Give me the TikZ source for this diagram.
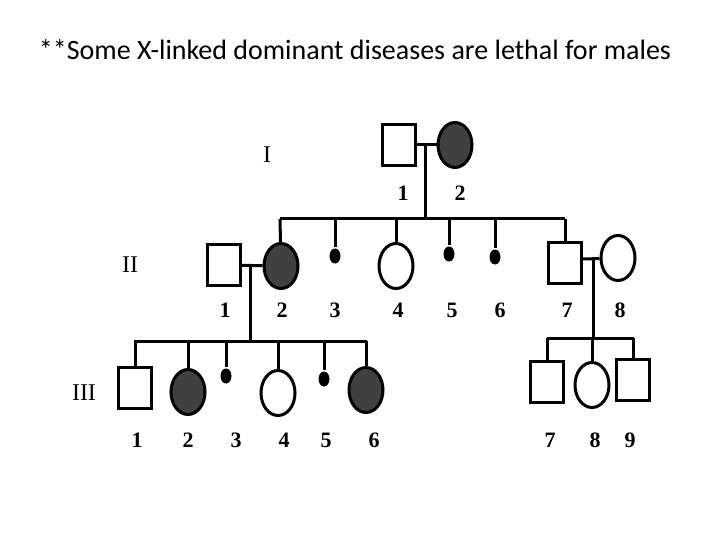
\documentclass[tikz,border=0pt]{standalone}
\usepackage{fontspec}
\usetikzlibrary{shapes.geometric}
\setmainfont{Liberation Serif}
\newfontfamily\titlefont{Carlito}
\begin{document}
\begin{tikzpicture}[x=1pt,y=-1pt,line width=3pt,
 male/.style={draw,fill=white,minimum width=33pt,minimum height=41pt,inner sep=0pt},
 fem/.style={draw,ellipse,fill=white,minimum width=34pt,minimum height=45pt,inner sep=0pt},
 aff/.style={fill=black!75},
 dot/.style={ellipse,fill=black,minimum width=11pt,minimum height=15pt,inner sep=0pt},
 lab/.style={font=\fontsize{22}{22}\selectfont\bfseries}]
\useasboundingbox (0,0) rectangle (720,540);
\node[font=\titlefont\fontsize{28}{30}\selectfont] (title) at (355,50) {**Some X-linked dominant diseases are lethal for males};
% generation I
\node[male] (i1) at (399,145) {};
\node[fem,aff] (i2) at (455,145) {};
\node[lab,font=\fontsize{24}{24}\selectfont] (gI) at (267,155) {I};
\node[lab] (li1) at (403,193) {1};
\node[lab] (li2) at (460,193) {2};
\coordinate (cI) at (425,145);
\coordinate (sI) at (425,219);
\coordinate (sIa) at (280,219);
\coordinate (sIb) at (565,219);
% generation II
\node[male] (ii1) at (224,265) {};
\node[fem,aff] (ii2) at (281,266) {};
\node[dot] (ii3) at (335,256) {};
\node[fem] (ii4) at (396,266) {};
\node[dot] (ii5) at (449,254) {};
\node[dot] (ii6) at (495,257) {};
\node[male] (ii7) at (565,263) {};
\node[fem] (ii8) at (618,258) {};
\node[lab,font=\fontsize{24}{24}\selectfont] (gII) at (130,265) {II};
\foreach \n/\x in {1/225,2/282,3/335,4/398,5/452,6/500,7/567,8/620}
 \node[lab] (lii\n) at (\x,310) {\n};
% generation III
\node[male] (iii1) at (135,388) {};
\node[fem,aff] (iii2) at (188,392) {};
\node[dot] (iii3) at (226,376) {};
\node[fem] (iii4) at (278,393) {};
\node[dot] (iii5) at (324,379) {};
\node[fem,aff] (iii6) at (366,390) {};
\node[male] (iii7) at (547,382) {};
\node[fem] (iii8) at (592,385) {};
\node[male] (iii9) at (633,380) {};
\node[lab,font=\fontsize{24}{24}\selectfont] (gIII) at (84,393) {III};
\foreach \n/\x in {1/137,2/188,3/236,4/284,5/326,6/374,7/550,8/595,9/630}
 \node[lab] (liii\n) at (\x,440) {\n};
% connectors generation I
\draw (i1) -- (i2);
\draw (cI) -- (sI);
\draw (sIa) -- (sIb);
\draw (sIa) -- (ii2);
\draw (335,219) -- (ii3);
\draw (396,219) -- (ii4);
\draw (449,219) -- (ii5);
\draw (495,219) -- (ii6);
\draw (sIb) -- (ii7);
% II1 x II2
\coordinate (cII) at (250,266);
\coordinate (sII) at (250,341);
\draw (ii1) -- (ii2);
\draw (cII) -- (sII);
\draw (134,341) -- (367,341);
\draw (135,341) -- (iii1);
\draw (188,341) -- (iii2);
\draw (226,341) -- (iii3);
\draw (278,341) -- (iii4);
\draw (324,341) -- (iii5);
\draw (366,341) -- (iii6);
% II7 x II8
\coordinate (cII2) at (593,259);
\draw (ii7.east |- cII2) -- (ii8);
\draw (cII2) -- (593,338);
\draw (547,338) -- (634,338);
\draw (547,338) -- (iii7);
\draw (592,338) -- (iii8);
\draw (633,338) -- (iii9);
\end{tikzpicture}
\end{document}
